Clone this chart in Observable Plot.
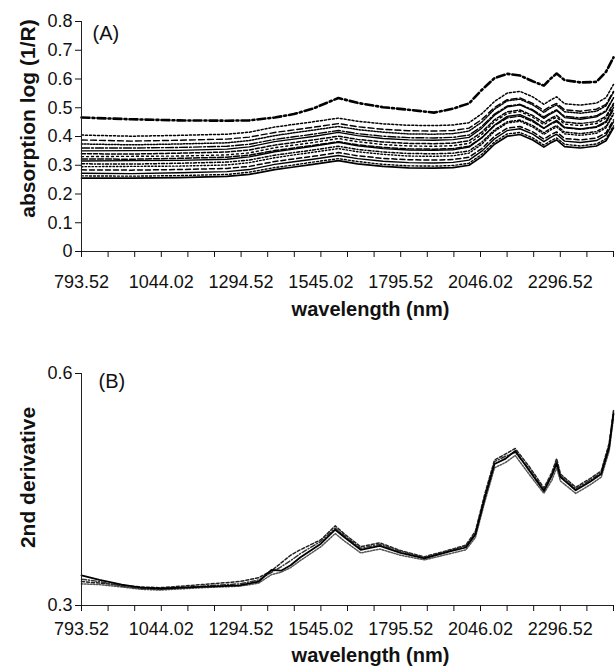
<!DOCTYPE html>
<html><head><meta charset="utf-8">
<script src="https://cdn.jsdelivr.net/npm/d3@7"></script>
<script src="https://cdn.jsdelivr.net/npm/@observablehq/plot@0.6"></script>
<style>body{margin:0;background:#fff} #chart svg{display:block}</style>
</head><body><div id="chart"></div>
<script>
// ---- axis ticks and labels ----
const xTicks = [793.52, 877.02, 960.52, 1044.02, 1127.52, 1211.02, 1294.52, 1378.02, 1461.52, 1545.02, 1628.52, 1712.02, 1795.52, 1879.02, 1962.52, 2046.02, 2129.52, 2213.02, 2296.52, 2380.02, 2463.52];
const xTickLabels = ["793.52", "1044.02", "1294.52", "1545.02", "1795.52", "2046.02", "2296.52"];
const aYTicks = [0, 0.1, 0.2, 0.3, 0.4, 0.5, 0.6, 0.7, 0.8];
const bYTicks = [0.3, 0.6];

// ---- panel A: absorption spectra ----
const aWavelength = [793.52, 950, 1100, 1250, 1320, 1400, 1460, 1520, 1600, 1660, 1740, 1820, 1900, 1960, 2010, 2050, 2090, 2130, 2170, 2210, 2245, 2265, 2285, 2310, 2360, 2410, 2440, 2463.52];
const aTop = [0.466,0.46,0.456,0.455,0.456,0.466,0.478,0.497,0.534,0.517,0.502,0.493,0.483,0.497,0.515,0.562,0.603,0.618,0.612,0.592,0.577,0.6,0.619,0.596,0.588,0.59,0.625,0.675];
const a14 = [0.405,0.401,0.404,0.408,0.415,0.433,0.442,0.451,0.464,0.453,0.444,0.439,0.438,0.44,0.448,0.479,0.522,0.551,0.557,0.538,0.512,0.526,0.538,0.514,0.509,0.516,0.535,0.581];
const a13 = [0.388,0.384,0.387,0.391,0.398,0.414,0.423,0.432,0.445,0.434,0.425,0.42,0.419,0.421,0.429,0.459,0.501,0.528,0.534,0.515,0.491,0.505,0.515,0.493,0.488,0.495,0.512,0.557];
const a12 = [0.374,0.371,0.374,0.378,0.386,0.403,0.413,0.422,0.435,0.424,0.415,0.409,0.408,0.41,0.419,0.45,0.495,0.524,0.53,0.51,0.484,0.499,0.51,0.486,0.481,0.488,0.507,0.554];
const a11 = [0.36,0.36,0.362,0.366,0.373,0.39,0.399,0.408,0.421,0.41,0.401,0.396,0.395,0.397,0.405,0.435,0.478,0.506,0.512,0.493,0.468,0.482,0.493,0.47,0.465,0.472,0.49,0.535];
const a10 = [0.35,0.351,0.352,0.356,0.364,0.382,0.391,0.4,0.414,0.403,0.393,0.388,0.387,0.389,0.397,0.429,0.474,0.503,0.51,0.49,0.463,0.478,0.49,0.466,0.46,0.468,0.487,0.534];
const a09 = [0.34,0.339,0.342,0.346,0.353,0.37,0.379,0.388,0.401,0.39,0.381,0.376,0.375,0.377,0.385,0.415,0.458,0.486,0.492,0.473,0.448,0.462,0.473,0.45,0.445,0.452,0.47,0.515];
const a08 = [0.33,0.331,0.332,0.336,0.343,0.361,0.37,0.379,0.393,0.382,0.372,0.367,0.366,0.368,0.376,0.407,0.452,0.48,0.487,0.467,0.441,0.456,0.467,0.443,0.438,0.445,0.464,0.51];
const a07 = [0.322,0.321,0.324,0.328,0.335,0.351,0.36,0.369,0.382,0.371,0.362,0.357,0.356,0.358,0.366,0.396,0.438,0.465,0.471,0.452,0.428,0.442,0.452,0.43,0.425,0.432,0.449,0.494];
const a06 = [0.315,0.316,0.317,0.321,0.329,0.347,0.356,0.366,0.38,0.368,0.358,0.353,0.352,0.354,0.363,0.395,0.44,0.47,0.476,0.456,0.429,0.444,0.456,0.432,0.426,0.434,0.453,0.501];
const a05 = [0.305,0.304,0.307,0.311,0.318,0.335,0.344,0.353,0.366,0.355,0.346,0.341,0.34,0.342,0.35,0.38,0.423,0.451,0.457,0.438,0.413,0.427,0.438,0.415,0.41,0.417,0.435,0.48];
const a04 = [0.295,0.296,0.297,0.301,0.309,0.326,0.336,0.345,0.358,0.347,0.338,0.332,0.331,0.333,0.342,0.373,0.418,0.447,0.453,0.433,0.407,0.422,0.433,0.409,0.404,0.411,0.43,0.477];
const a03 = [0.284,0.283,0.285,0.289,0.296,0.313,0.322,0.331,0.344,0.333,0.324,0.319,0.318,0.32,0.328,0.358,0.401,0.429,0.435,0.416,0.391,0.405,0.416,0.393,0.388,0.395,0.413,0.458];
const a02 = [0.272,0.271,0.274,0.278,0.285,0.303,0.312,0.321,0.334,0.323,0.314,0.309,0.308,0.31,0.318,0.349,0.392,0.421,0.427,0.408,0.382,0.396,0.408,0.384,0.379,0.386,0.405,0.451];
const a01 = [0.263,0.262,0.264,0.268,0.276,0.292,0.301,0.311,0.323,0.313,0.303,0.298,0.297,0.299,0.307,0.338,0.381,0.409,0.414,0.395,0.37,0.384,0.395,0.373,0.367,0.374,0.392,0.437];
const aBottom = [0.255,0.255,0.257,0.261,0.268,0.285,0.294,0.303,0.316,0.305,0.296,0.291,0.29,0.292,0.30,0.33,0.373,0.401,0.407,0.388,0.363,0.377,0.388,0.365,0.36,0.367,0.385,0.43];

// ---- panel B: 2nd derivative ----
const bWavelength = [793.52, 850, 920, 980, 1040, 1170, 1290, 1350, 1390, 1420, 1450, 1480, 1545, 1590, 1620, 1670, 1730, 1795, 1870, 1950, 2000, 2030, 2060, 2090, 2125, 2155, 2200, 2245, 2270, 2285, 2297, 2345, 2390, 2425, 2450, 2463.52];
const b1 = [0.339,0.333,0.327,0.323,0.322,0.324,0.326,0.331,0.346,0.345,0.352,0.362,0.38,0.398,0.388,0.372,0.377,0.368,0.361,0.37,0.375,0.392,0.44,0.483,0.49,0.5,0.474,0.448,0.468,0.484,0.466,0.449,0.46,0.47,0.505,0.548];
const b2 = [0.331,0.329,0.326,0.324,0.323,0.327,0.331,0.336,0.345,0.355,0.365,0.372,0.385,0.403,0.392,0.376,0.381,0.371,0.363,0.372,0.378,0.396,0.445,0.488,0.496,0.503,0.479,0.452,0.472,0.49,0.47,0.453,0.464,0.474,0.51,0.552];
const b3 = [0.328,0.327,0.324,0.321,0.32,0.323,0.325,0.329,0.34,0.343,0.349,0.358,0.376,0.393,0.383,0.368,0.373,0.365,0.359,0.367,0.372,0.388,0.435,0.478,0.485,0.494,0.469,0.445,0.462,0.478,0.461,0.445,0.456,0.466,0.5,0.543];
const b4 = [0.334,0.331,0.325,0.322,0.321,0.325,0.328,0.333,0.343,0.35,0.358,0.367,0.383,0.4,0.39,0.374,0.379,0.37,0.362,0.371,0.377,0.394,0.442,0.486,0.493,0.498,0.476,0.45,0.47,0.487,0.468,0.451,0.462,0.472,0.507,0.55];

// ---- styles ----
const FONT = "'Liberation Sans', Arial, Helvetica, sans-serif";
const aSeries = [aTop, a14, a13, a12, a11, a10, a09, a08, a07, a06, a05, a04, a03, a02, a01, aBottom];
const aDash = ["8,3,2,3", "2,2", "6,3", "1.5,1.5", "8,2,2,2", null, "4,2", "2,3", "6,2", null, "3,2,1,2", "1.5,2", "5,3", null, "2,2", null];
const aWidth = [2.6, 1.5, 1.4, 1.5, 1.4, 1.3, 1.5, 1.4, 1.5, 1.4, 1.5, 1.4, 1.5, 1.4, 1.4, 1.7];
const bSeries = [b3, b2, b4, b1];
const bDash = ["1.5,1.5", "3,2", "5,2,1,2", null];
const bWidth = [1.5, 1.5, 1.5, 1.8];
const bColor = ["#555", "#222", "#333", "#000"];

const toRows = (xs, ys) => xs.map((x, i) => ({x, y: ys[i]}));
const labelSet = new Set(xTickLabels);
const xFmt = d => labelSet.has(d.toFixed(2)) ? d.toFixed(2) : "";

const plotA = Plot.plot({
  width: 615, height: 335,
  marginLeft: 81, marginRight: 2, marginTop: 21, marginBottom: 84,
  style: {fontFamily: FONT, fontSize: "18px", color: "#111", background: "white"},
  x: {domain: [793.52, 2463.52]},
  y: {domain: [0, 0.8]},
  marks: [
    ...aSeries.map((s, i) => Plot.line(toRows(aWavelength, s), {x: "x", y: "y", stroke: "#000", strokeWidth: aWidth[i], strokeDasharray: aDash[i] ?? undefined})),
    Plot.ruleY([0], {stroke: "#222"}),
    Plot.ruleX([793.52], {y1: 0, y2: 0.8, stroke: "#222"}),
    Plot.axisX({ticks: xTicks, tickFormat: xFmt, tickSize: 6, tickPadding: 18, fontSize: 18, label: null}),
    Plot.axisY({ticks: aYTicks, tickFormat: d => String(d), tickSize: 6, tickPadding: 3, fontSize: 18, label: null}),
    Plot.text(["absorption log (1/R)"], {frameAnchor: "left", textAnchor: "middle", lineAnchor: "middle", rotate: -90, dx: -53, dy: -18, fontSize: 21, fontWeight: "bold"}),
    Plot.text(["wavelength (nm)"], {frameAnchor: "bottom", textAnchor: "middle", lineAnchor: "middle", dx: 23, dy: 58, fontSize: 20, fontWeight: "bold"}),
    Plot.text(["(A)"], {frameAnchor: "top-left", textAnchor: "start", lineAnchor: "middle", dx: 11, dy: 12, fontSize: 20})
  ]
});

const plotB = Plot.plot({
  width: 615, height: 332,
  marginLeft: 81, marginRight: 2, marginTop: 38, marginBottom: 62,
  style: {fontFamily: FONT, fontSize: "18px", color: "#111", background: "white"},
  x: {domain: [793.52, 2463.52]},
  y: {domain: [0.3, 0.6]},
  marks: [
    ...bSeries.map((s, i) => Plot.line(toRows(bWavelength, s), {x: "x", y: "y", stroke: bColor[i], strokeWidth: bWidth[i], strokeDasharray: bDash[i] ?? undefined})),
    Plot.ruleY([0.3], {stroke: "#222"}),
    Plot.ruleX([793.52], {y1: 0.3, y2: 0.6, stroke: "#222"}),
    Plot.axisX({ticks: xTicks, tickFormat: xFmt, tickSize: 6, tickPadding: 11, fontSize: 18, label: null}),
    Plot.axisY({ticks: bYTicks, tickFormat: d => String(d), tickSize: 6, tickPadding: 3, fontSize: 18, label: null}),
    Plot.text(["2nd derivative"], {frameAnchor: "left", textAnchor: "middle", lineAnchor: "middle", rotate: -90, dx: -53, dy: -12, fontSize: 21, fontWeight: "bold"}),
    Plot.text(["wavelength (nm)"], {frameAnchor: "bottom", textAnchor: "middle", lineAnchor: "middle", dx: 23, dy: 50, fontSize: 20, fontWeight: "bold"}),
    Plot.text(["(B)"], {frameAnchor: "top-left", textAnchor: "start", lineAnchor: "middle", dx: 17, dy: 8, fontSize: 20})
  ]
});

document.getElementById("chart").append(plotA, plotB);
</script>
</body></html>
